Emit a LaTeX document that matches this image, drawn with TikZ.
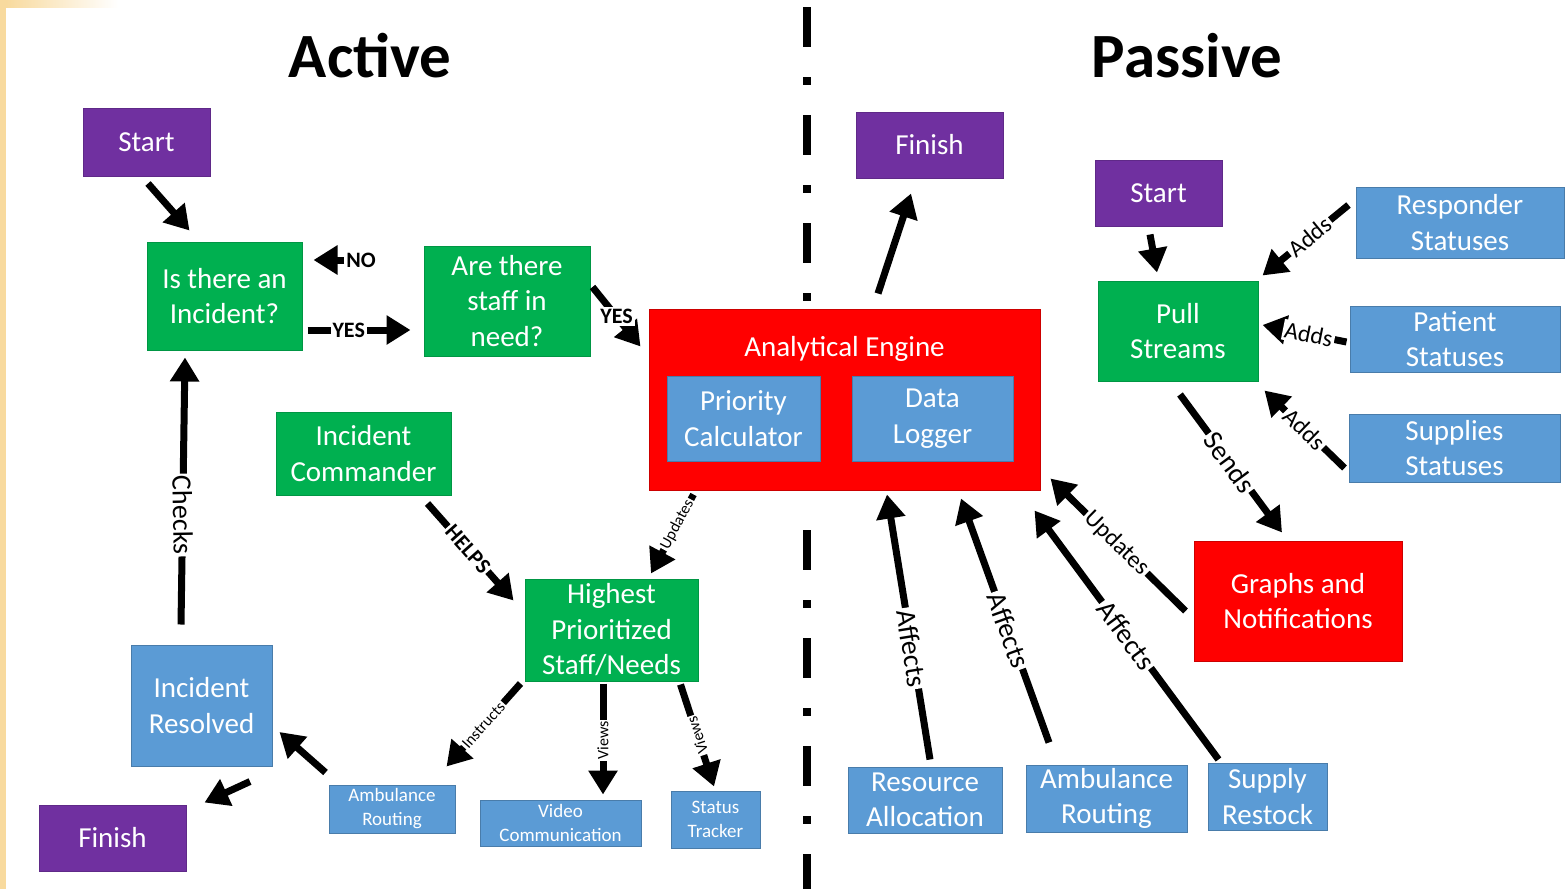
\documentclass[tikz,border=0pt]{standalone}
\usepackage{fontspec}
\setmainfont{Carlito}
\usepackage{tikz}
\usetikzlibrary{arrows.meta, calc}
\definecolor{boxpurple}{HTML}{7030A0}
\definecolor{boxgreen}{HTML}{00B050}
\definecolor{boxblue}{HTML}{5B9BD5}
\definecolor{boxred}{HTML}{FF0000}
\definecolor{edgecream}{HTML}{F8DA9E}

\tikzset{
  box/.style={rectangle, text=white, align=center, inner sep=0pt, line width=1pt,
    font=\fontsize{29}{35.5}\selectfont},
  smallbox/.style={box, font=\fontsize{19}{24}\selectfont},
  dims/.style 2 args={minimum width=#1pt, minimum height=#2pt},
  purplebox/.style={fill=boxpurple, draw=boxpurple!85!black},
  greenbox/.style={fill=boxgreen, draw=boxgreen!85!black},
  bluebox/.style={fill=boxblue, draw=boxblue!80!black},
  redbox/.style={fill=boxred, draw=boxred!80!black},
  title/.style={font=\fontsize{63}{63}\selectfont\bfseries, anchor=base},
  divider/.style={line width=8pt, dash pattern=on 40pt off 30pt on 8pt off 30pt},
  flow/.style={line width=7pt, -{Triangle[length=24pt,width=28pt]}},
  tag/.style={fill=white, inner sep=2pt, text=black, font=\fontsize{24}{24}\selectfont},
  bigtag/.style={tag, font=\fontsize{28}{28}\selectfont},
  boldtag/.style={tag, font=\fontsize{22}{22}\selectfont\bfseries},
  smalltag/.style={tag, inner sep=1.5pt, font=\fontsize{16}{16}\selectfont},
}

\begin{document}
\begin{tikzpicture}[x=1pt, y=-1pt]
  % page and left edge
  \useasboundingbox (0,0) rectangle (1566,889);
  \fill[white] (0,0) rectangle (1566,889);
  \fill[edgecream] (0,0) rectangle (6,889);
  \shade[left color=edgecream, right color=white] (6,0) rectangle (118,7);

  % Titles
  \node[title] (active) at (370,77) {Active};
  \node[title] (passive) at (1187,77) {Passive};

  % Divider between the two halves
  \draw[divider] (807,7) -- (807,305);
  \draw[divider] (807,530) -- (807,889);

  % ---- Active side ----
  \node[box, purplebox, dims={127}{68}] (startA) at (146.5,142) {Start};
  \node[box, greenbox, dims={155}{108}] (incident) at (224.5,296) {Is there an\\Incident?};
  \node[box, greenbox, dims={166}{110}] (staff) at (507,301) {Are there\\staff in\\need?};
  \node[box, greenbox, dims={175}{83}] (commander) at (363.5,453.5) {Incident\\Commander};
  \node[box, greenbox, dims={173}{102}] (highest) at (611.5,630) {Highest\\Prioritized\\Staff/Needs};
  \node[box, bluebox, dims={141}{121}] (resolved) at (201.5,705.5) {Incident\\Resolved};
  \node[box, purplebox, dims={147}{66}] (finishA) at (112.5,838) {Finish};
  \node[smallbox, bluebox, dims={126}{48}] (ambA) at (392,809) {Ambulance\\Routing};
  \node[smallbox, bluebox, dims={161}{46}] (video) at (560.5,823) {Video\\Communication};
  \node[smallbox, bluebox, dims={89}{57}] (tracker) at (715.5,819.5) {Status\\Tracker};

  % Analytical engine with its two parts
  \node[box, redbox, dims={391}{181}] (engine) at (844.5,399.5) {};
  \node[box] (enginetitle) at ($(engine.north)+(0,40)$) {Analytical Engine};
  \node[box, bluebox, dims={153}{85}] (prio) at (743.5,418.5) {Priority\\Calculator};
  \node[box, bluebox, dims={161}{85}] (logger) at (932.5,418.5) {Data\\Logger};

  % ---- Passive side ----
  \node[box, purplebox, dims={147}{66}] (finishP) at (929.5,145) {Finish};
  \node[box, purplebox, dims={127}{66}] (startP) at (1158.5,193) {Start};
  \node[box, greenbox, dims={160}{100}] (pull) at (1178,331) {Pull\\Streams};
  \node[box, bluebox, dims={208}{71}] (responder) at (1460,222.5) {Responder\\Statuses};
  \node[box, bluebox, dims={210}{66}] (patient) at (1455,339) {Patient\\Statuses};
  \node[box, bluebox, dims={211}{68}] (supplies) at (1454.5,448) {Supplies\\Statuses};
  \node[box, redbox, dims={208}{120}] (graphs) at (1298,601) {Graphs and\\Notifications};
  \node[box, bluebox, dims={154}{66}] (resource) at (925,800) {Resource\\Allocation};
  \node[box, bluebox, dims={161}{67}] (ambP) at (1106.5,798.5) {Ambulance\\Routing};
  \node[box, bluebox, dims={119}{67}] (restock) at (1267.5,796.5) {Supply\\Restock};

  % ---- Active arrows ----
  \draw[flow] ([shift={(1.5,7)}]startA.south) -- ([shift={(43,-11)}]incident.north west);
  \node[boldtag] (no) at (361,260) {NO};
  \draw[flow] (no.west) -- ([shift={(11,-36)}]incident.east);
  \draw[flow] ([shift={(5,34)}]incident.east) -- node[boldtag, pos=0.4] {YES} ([shift={(-13,29)}]staff.west);
  \draw[flow] ([shift={(2,-14)}]staff.east) -- node[boldtag, pos=0.5] {YES} ([shift={(-8,38)}]engine.north west);
  \draw[flow] ([shift={(-20.5,-20)}]resolved.north) -- node[bigtag, rotate=-89, pos=0.41] {Checks} ([shift={(-39.5,7)}]incident.south);
  \draw[flow] ([shift={(48.5,15)}]resolved.south) -- ([shift={(18,-2)}]finishA.north east);
  \draw[flow] ([shift={(-3,-12)}]ambA.north west) -- ([shift={(7,26.5)}]resolved.east);
  \draw[flow] ([shift={(-24,8)}]commander.south east) -- node[boldtag, sloped, pos=0.47] {HELPS} ([shift={(-11,22)}]highest.north west);
  \draw[flow] ([shift={(45,4)}]engine.south west) -- node[smalltag, sloped, pos=0.38] {Updates} ([shift={(39.5,-5)}]highest.north);
  \draw[flow] ([shift={(-4,2)}]highest.south west) -- node[smalltag, sloped, pos=0.5] {Instructs} ([shift={(-9,-18)}]ambA.north east);
  \draw[flow] ([shift={(-8.5,2)}]highest.south) -- node[smalltag, rotate=90, pos=0.51] {Views} ([shift={(42.5,-5)}]video.north);
  \draw[flow] ([shift={(-18,3)}]highest.south east) -- node[smalltag, rotate=108, pos=0.5] {Views} ([shift={(-1.5,-4)}]tracker.north);

  % ---- Passive arrows ----
  \draw[flow] ([shift={(33.5,-15)}]engine.north) -- ([shift={(-18.5,15)}]finishP.south);
  \draw[flow] ([shift={(-8.5,8)}]startP.south) -- ([shift={(-21,-8)}]pull.north);
  \draw[flow] ([shift={(-7,-17.5)}]responder.west) -- node[tag, sloped, pos=0.45] {Adds} ([shift={(4,-5)}]pull.north east);
  \draw[flow] ([shift={(-3,3)}]patient.west) -- node[tag, sloped, pos=0.45] {Adds} ([shift={(4,-6)}]pull.east);
  \draw[flow] ([shift={(-4,20)}]supplies.west) -- node[tag, sloped, pos=0.5] {Adds} ([shift={(6,9)}]pull.south east);
  \draw[flow] ([shift={(2,13)}]pull.south) -- node[bigtag, sloped, pos=0.49] {Sends} ([shift={(-16,-8)}]graphs.north);
  \draw[flow] ([shift={(-8,10)}]graphs.west) -- node[tag, sloped, pos=0.51] {Updates} ([shift={(10,-12)}]engine.south east);
  \draw[flow] ([shift={(5,-7)}]resource.north) -- node[bigtag, sloped, pos=0.42] {Affects} ([shift={(42.5,4)}]engine.south);
  \draw[flow] ([shift={(-57.5,-22)}]ambP.north) -- node[bigtag, sloped, pos=0.46] {Affects} ([shift={(116.5,8)}]engine.south);
  \draw[flow] ([shift={(11,-3)}]restock.north west) -- node[bigtag, sloped, pos=0.5] {Affects} ([shift={(-6,20)}]engine.south east);
\end{tikzpicture}
\end{document}
